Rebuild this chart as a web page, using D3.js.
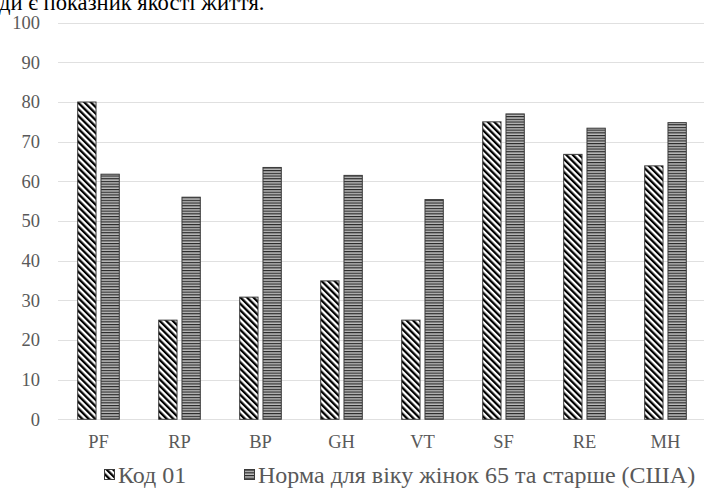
<!DOCTYPE html>
<html>
<head>
<meta charset="utf-8">
<script src="https://cdn.jsdelivr.net/npm/d3@7"></script>
<style>
  html, body { margin: 0; padding: 0; background: #fff; }
  svg { display: block; }
</style>
</head>
<body>
<svg id="chart" width="704" height="495"></svg>
<script>
const categories = ["PF", "RP", "BP", "GH", "VT", "SF", "RE", "MH"];
const seriesNames = ["Код 01", "Норма для віку жінок 65 та старше (США)"];
const code01 = [80, 25, 30.8, 34.9, 25, 75, 66.8, 63.9];
const norm65 = [61.8, 56, 63.5, 61.5, 55.4, 77, 73.4, 74.8];
const yTicks = [0, 10, 20, 30, 40, 50, 60, 70, 80, 90, 100];
const titleFragment = "ди є показник якості життя.";

(function () {
const svg = d3.select("#chart");
const font = "Liberation Serif, serif";
const plotLeft = 58, plotRight = 706, plotTop = 22.7, plotBottom = 419.3;

// patterns
const defs = svg.append("defs");
const hatch = defs.append("pattern").attr("id", "hatch")
  .attr("patternUnits", "userSpaceOnUse").attr("width", 4.6).attr("height", 10)
  .attr("patternTransform", "rotate(-45)");
hatch.append("rect").attr("width", 4.6).attr("height", 10).attr("fill", "#fff");
hatch.append("rect").attr("width", 2.3).attr("height", 10).attr("fill", "#000");

const stripes = defs.append("pattern").attr("id", "stripes")
  .attr("patternUnits", "userSpaceOnUse").attr("width", 10).attr("height", 2.7);
stripes.append("rect").attr("width", 10).attr("height", 2.7).attr("fill", "#bcbcbc");
stripes.append("rect").attr("width", 10).attr("height", 1.15).attr("fill", "#262626");

const x0 = d3.scaleBand().domain(categories).range([plotLeft, plotRight])
  .paddingInner(0.474).paddingOuter(0.237);
const x1 = d3.scaleBand().domain([0, 1]).range([0, x0.bandwidth()]).paddingInner(0.17);
const y = d3.scaleLinear().domain([0, 100]).range([plotBottom, plotTop]);

// title fragment (cropped document line)
svg.append("text").attr("x", -1).attr("y", 10)
  .attr("font-family", font).attr("font-size", 22.6).attr("fill", "#000")
  .text(titleFragment);

// gridlines
svg.append("g").selectAll("line").data(yTicks).join("line")
  .attr("x1", plotLeft).attr("x2", plotRight)
  .attr("y1", d => Math.round(y(d)) + 0.5).attr("y2", d => Math.round(y(d)) + 0.5)
  .attr("stroke", "#e0e0e0").attr("stroke-width", 1);

// y axis labels
const yAxis = d3.axisLeft(y).tickValues(yTicks).tickSize(0).tickPadding(0);
const gy = svg.append("g").attr("transform", `translate(40,0)`).call(yAxis);
gy.select(".domain").remove();
gy.selectAll("text").attr("font-family", font).attr("font-size", 18.5)
  .attr("fill", "#595959");

// x axis labels
const xAxis = d3.axisBottom(x0).tickSize(0).tickPadding(0);
const gx = svg.append("g").attr("transform", `translate(0,${plotBottom + 16})`).call(xAxis);
gx.select(".domain").remove();
gx.selectAll("text").attr("font-family", font).attr("font-size", 18.5)
  .attr("fill", "#595959");

// bars
const rows = categories.map((c, i) => ({ c, vals: [code01[i], norm65[i]] }));
const fills = ["url(#hatch)", "url(#stripes)"];
const g = svg.append("g");
rows.forEach(r => {
  r.vals.forEach((v, j) => {
    g.append("rect")
      .attr("x", x0(r.c) + x1(j) + 0.5)
      .attr("y", y(v))
      .attr("width", x1.bandwidth() - 1)
      .attr("height", plotBottom - y(v))
      .attr("fill", fills[j])
      .attr("stroke", "#3a3a3a").attr("stroke-width", 1);
  });
});

// legend
const legendX = [104, 244];
const legendY = 475;
const texts = [];
seriesNames.forEach((name, j) => {
  const lg = svg.append("g").attr("transform", `translate(${legendX[j]},${legendY})`);
  lg.append("rect").attr("x", 0.5).attr("y", -5.5).attr("width", 10).attr("height", 10)
    .attr("fill", fills[j]).attr("stroke", "#3a3a3a");
  texts.push(lg.append("text").attr("x", 14).attr("y", 0).attr("dy", "0.35em")
    .attr("font-family", font).attr("font-size", 20).attr("fill", "#595959")
    .text(name));
});
// size legend font so the long entry spans to the right edge as in the picture
const w = texts[1].node().getComputedTextLength();
const fs = Math.min(24, 20 * (698 - 258) / w);
texts.forEach(t => t.attr("font-size", fs));
})();
</script>
</body>
</html>
